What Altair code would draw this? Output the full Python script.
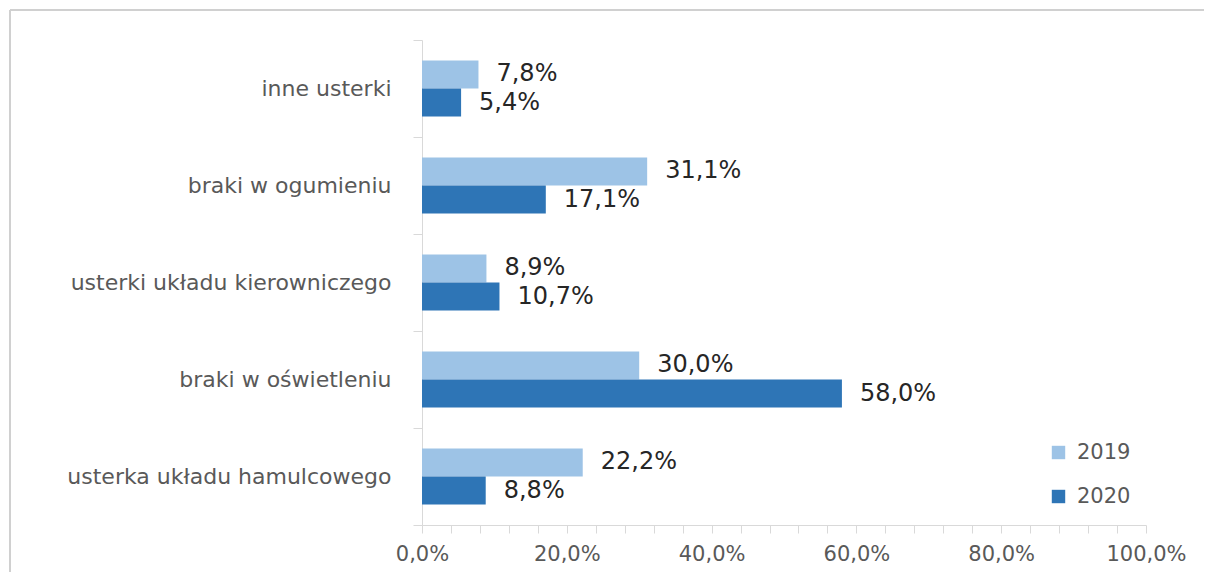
import altair as alt
import pandas as pd

categories = ["inne usterki", "braki w ogumieniu", "usterki układu kierowniczego",
              "braki w oświetleniu", "usterka układu hamulcowego"]
years = ["2019", "2020"]
values_2019 = [7.8, 31.1, 8.9, 30.0, 22.2]
values_2020 = [5.4, 17.1, 10.7, 58.0, 8.8]
minor_ticks = list(range(0, 101, 4))
major_ticks = list(range(0, 101, 20))

rows = []
for c, v19, v20 in zip(categories, values_2019, values_2020):
    rows.append({"cat": c, "year": "2019", "v": v19, "lbl": f"{v19:.1f}%".replace(".", ",")})
    rows.append({"cat": c, "year": "2020", "v": v20, "lbl": f"{v20:.1f}%".replace(".", ",")})
df = pd.DataFrame(rows)

W, H = 724, 485
font = "DejaVu Sans"
xscale = alt.Scale(domain=[0, 100], nice=False)

y_enc = alt.Y("cat:N", sort=categories, title=None,
              scale=alt.Scale(paddingInner=0, paddingOuter=0),
              axis=alt.Axis(tickBand="extent", labelFontSize=22, labelColor="#595959",
                            labelFont=font, labelPadding=22, tickSize=9, tickColor="#d9d9d9",
                            domainColor="#d9d9d9", grid=False, labelLimit=420))
yoff = alt.YOffset("year:N", sort=years, scale=alt.Scale(paddingInner=0, paddingOuter=0.73))

bars = alt.Chart(df).mark_bar(size=28).encode(
    y=y_enc,
    yOffset=yoff,
    x=alt.X("v:Q", title=None, scale=xscale,
            axis=alt.Axis(orient="bottom", values=minor_ticks, grid=False, tickSize=8,
                          tickColor="#d9d9d9", domainColor="#d9d9d9", labels=False)),
    color=alt.Color("year:N", sort=years,
                    scale=alt.Scale(domain=years, range=["#9DC3E6", "#2E75B6"]),
                    legend=alt.Legend(title=None, orient="none", legendX=626, legendY=402,
                                      symbolType="square", symbolSize=180, symbolStrokeWidth=0,
                                      labelFontSize=21, labelColor="#595959", labelFont=font,
                                      labelOffset=8, rowPadding=22, symbolOffset=0)),
)

labels = alt.Chart(df).mark_text(align="left", baseline="middle", dx=18, fontSize=24,
                                 font=font, color="#262626").encode(
    y=alt.Y("cat:N", sort=categories),
    yOffset=yoff,
    x=alt.X("v:Q", title=None, scale=xscale,
            axis=alt.Axis(orient="bottom", values=major_ticks, grid=False, ticks=False,
                          domain=False, labelFontSize=21, labelColor="#595959",
                          labelFont=font, labelPadding=18, labelOverlap=False, labelFlush=False,
                          labelExpr="replace(format(datum.value, '.1f'), '.', ',') + '%'")),
    text="lbl:N",
)

one = pd.DataFrame({"a": [0]})
frame_top = alt.Chart(one).mark_rule(color="#d0d0d0", strokeWidth=2, clip=False).encode(
    x=alt.value(-412), x2=alt.value(W + 300), y=alt.value(-30))
frame_left = alt.Chart(one).mark_rule(color="#d0d0d0", strokeWidth=2, clip=False).encode(
    x=alt.value(-412), y=alt.value(-30), y2=alt.value(H + 150))

chart = alt.layer(frame_top, frame_left, bars, labels).resolve_axis(x="independent").properties(
    width=W, height=H,
    padding={"left": 414, "top": 32, "right": 58, "bottom": 47},
    autosize=alt.AutoSizeParams(type="none"),
).configure_view(stroke=None)

chart.save("out.html", embed_options={"renderer": "svg", "actions": False})
